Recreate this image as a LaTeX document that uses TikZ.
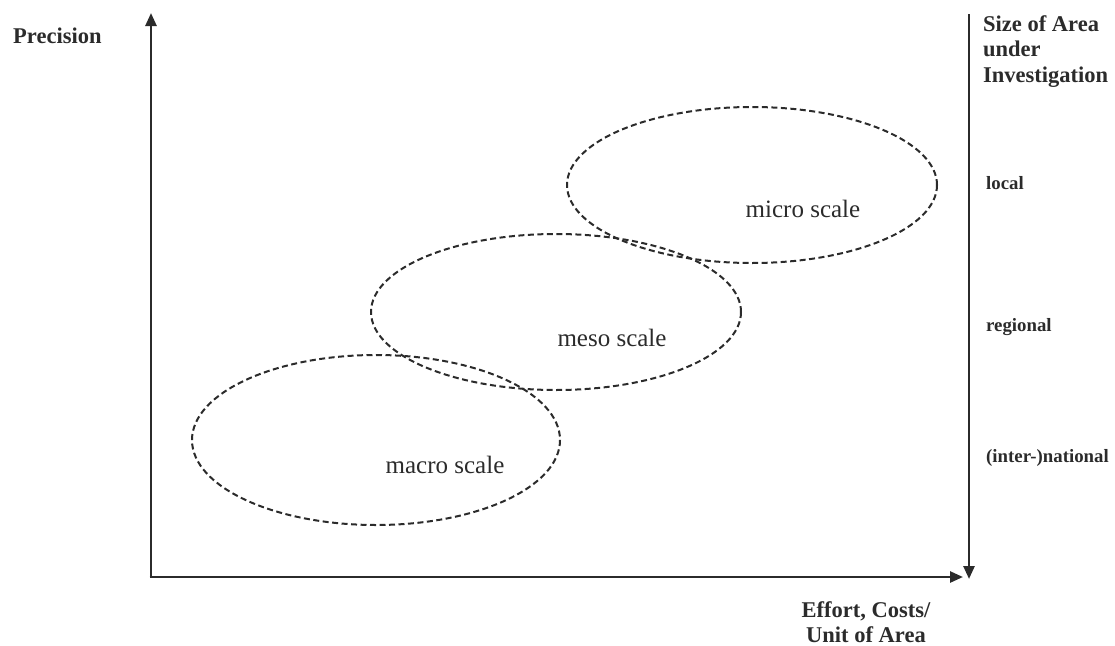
\documentclass[tikz,border=0pt]{standalone}
\usepackage{fontspec}
\setmainfont{Liberation Serif}
\usetikzlibrary{arrows.meta}
\definecolor{ink}{HTML}{2B2B2B}
\tikzset{
  axis/.style={draw=ink, line width=2.6pt, -{Triangle[length=13pt,width=11pt]}},
  scaleellipse/.style={draw=ink, line width=2pt, dash pattern=on 6pt off 3.5pt},
  scalelabel/.style={anchor=base, font=\fontsize{25}{28}\selectfont, text=ink, inner sep=0pt},
  biglabel/.style={anchor=base west, font=\fontsize{22.5}{25.5}\selectfont\bfseries, text=ink, inner sep=0pt},
  sizelabel/.style={anchor=base west, font=\fontsize{18.8}{22}\selectfont\bfseries, text=ink, inner sep=0pt}
}
\begin{document}
\begin{tikzpicture}[x=1pt, y=-1pt]
\useasboundingbox (0,0) rectangle (1115,645);
% axes
\coordinate (origin) at (151,577);
\coordinate (ytop) at (151,13);
\coordinate (xend) at (963,577);
\coordinate (rtop) at (969,14);
\coordinate (rbot) at (969,579);
\draw[axis] (origin) -- (ytop);
\draw[axis] ([xshift=-1.3pt]origin) -- (xend);
\draw[axis] (rtop) -- (rbot);
% ellipses
\draw[scaleellipse] (376,440) ellipse [x radius=184, y radius=85];
\draw[scaleellipse] (556,312) ellipse [x radius=185, y radius=78];
\draw[scaleellipse] (752,185) ellipse [x radius=185, y radius=78];
% scale labels
\node[scalelabel] (macro) at (445,473) {macro scale};
\node[scalelabel] (meso) at (612,346) {meso scale};
\node[scalelabel] (micro) at (803,217) {micro scale};
% axis labels
\node[biglabel] (prec) at (13,43) {Precision};
\node[biglabel] (size1) at (983,31) {Size of Area};
\node[biglabel] (size2) at (983,56.5) {under};
\node[biglabel] (size3) at (983,82) {Investigation};
\node[biglabel, anchor=base] (effort) at (866,617) {Effort, Costs/};
\node[biglabel, anchor=base] (unit) at (866,642) {Unit of Area};
\node[sizelabel] (local) at (986,189) {local};
\node[sizelabel] (regional) at (986,331) {regional};
\node[sizelabel] (inter) at (986,462) {(inter-)national};
\end{tikzpicture}
\end{document}
